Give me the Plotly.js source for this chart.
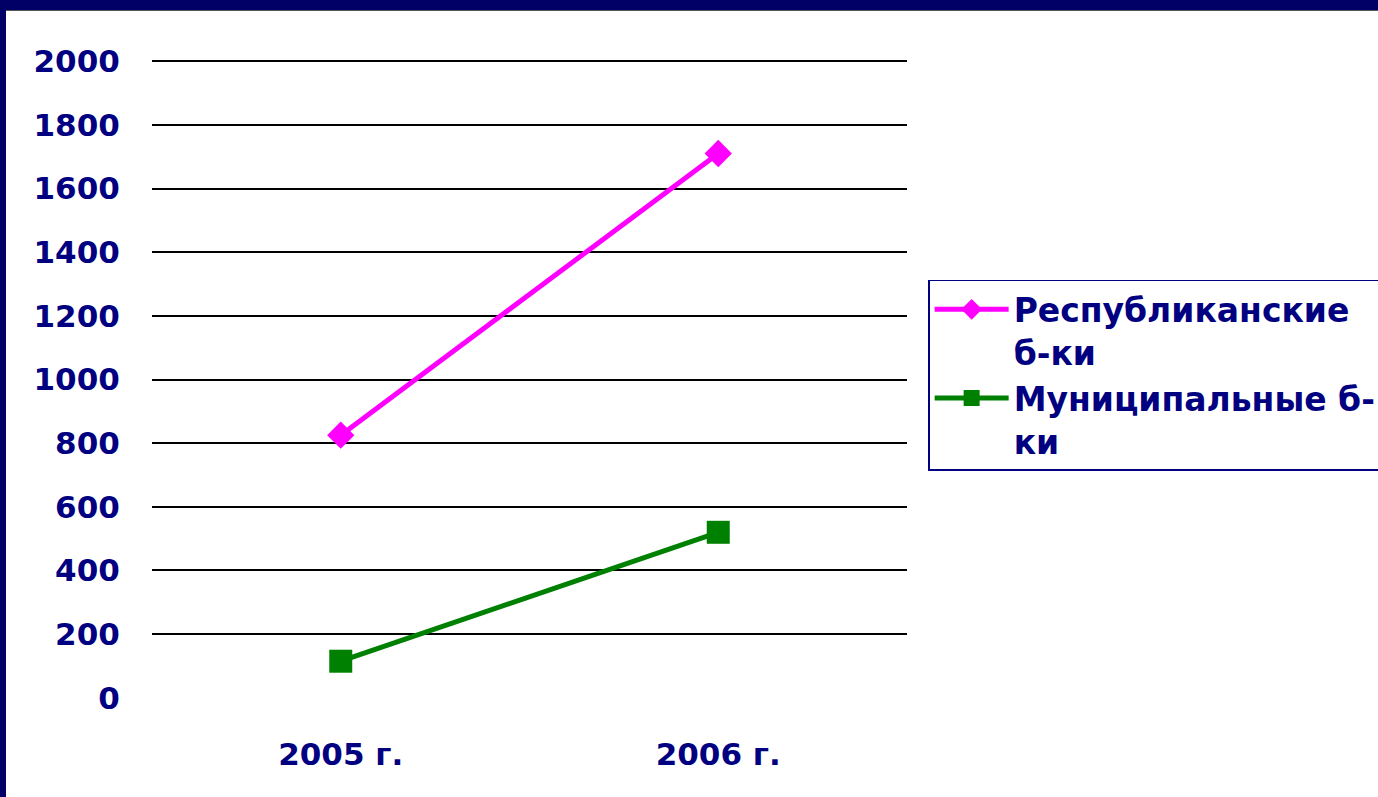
<!DOCTYPE html>
<html>
<head>
<meta charset="utf-8">
<script src="https://cdn.plot.ly/plotly-3.0.1.min.js"></script>
<style>
html,body{margin:0;padding:0;background:#fff;overflow:hidden;}
#wrap{position:relative;width:1378px;height:797px;overflow:hidden;}
#chart{position:absolute;left:0;top:0;width:1460px;height:797px;}
#topbar{position:absolute;left:0;top:0;width:1378px;height:10px;background:#000066;border-bottom:1px solid #555;}
#leftbar{position:absolute;left:0;top:0;width:6px;height:797px;background:#000066;}
</style>
</head>
<body>
<div id="wrap">
<div id="chart"></div>
<div id="topbar"></div>
<div id="leftbar"></div>
</div>
<script>
var categories = ["2005 г.", "2006 г."];
var seriesNames = ["Республиканские<br>б-ки", "Муниципальные б-<br>ки"];
var republican = [825, 1710];
var municipal = [115, 520];
var yTicks = [0, 200, 400, 600, 800, 1000, 1200, 1400, 1600, 1800, 2000];

var navy = "#000080";
var fontFam = "DejaVu Sans, Verdana, sans-serif";

var traces = [
  {x: categories, y: republican, name: seriesNames[0], type: "scatter", mode: "lines+markers",
   line: {color: "#FF00FF", width: 5}, marker: {symbol: "diamond", size: 21, color: "#FF00FF"}},
  {x: categories, y: municipal, name: seriesNames[1], type: "scatter", mode: "lines+markers",
   line: {color: "#008000", width: 5}, marker: {symbol: "square", size: 23, color: "#008000"}}
];

var layout = {
  width: 1460, height: 797,
  paper_bgcolor: "#fff", plot_bgcolor: "#fff",
  margin: {l: 152, r: 553, t: 58, b: 96, pad: 0},
  showlegend: true,
  font: {family: fontFam, color: navy, size: 31, weight: "bold"},
  xaxis: {
    type: "category", range: [-0.5, 1.5], showgrid: false, zeroline: false, showline: false,
    ticks: "outside", ticklen: 26, tickcolor: "rgba(0,0,0,0)",
    tickfont: {family: fontFam, color: navy, size: 31, weight: "bold"}
  },
  yaxis: {
    range: [-10, 2010], tickvals: yTicks, ticktext: yTicks.map(String),
    showgrid: true, gridcolor: "#000", gridwidth: 2,
    zeroline: true, zerolinecolor: "#fff", zerolinewidth: 5,
    showline: false, ticks: "outside", ticklen: 25, tickcolor: "rgba(0,0,0,0)",
    tickfont: {family: fontFam, color: navy, size: 31, weight: "bold"}
  },
  legend: {
    x: 1.028, y: 0.655, xanchor: "left", yanchor: "top",
    bgcolor: "#fff", bordercolor: navy, borderwidth: 1.5,
    font: {family: fontFam, color: navy, size: 33, weight: "bold"},
    valign: "top", itemwidth: 74, tracegroupgap: 0
  }
};

Plotly.newPlot("chart", traces, layout, {displayModeBar: false, staticPlot: true});
</script>
</body>
</html>
